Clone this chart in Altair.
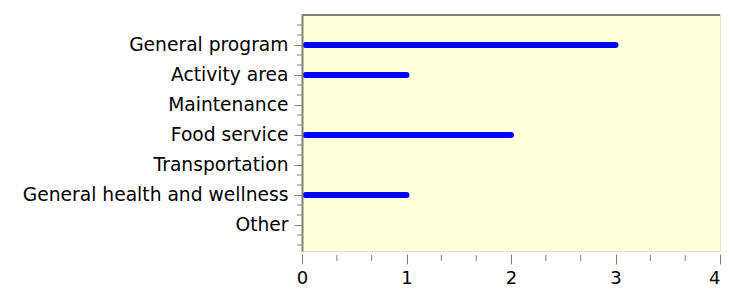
import json
import altair as alt
import pandas as pd

categories = ["General program", "Activity area", "Maintenance", "Food service",
              "Transportation", "General health and wellness", "Other"]
values = [3, 1, 0, 2, 0, 1, 0]
x_ticks = [0, 1, 2, 3, 4]
x_minor = [1/3, 2/3, 4/3, 5/3, 7/3, 8/3, 10/3, 11/3]
y_minor = [k / 3 for k in range(1, 24) if k % 3 != 0]

W, H = 418, 237
FONT = "DejaVu Sans"
FS = 18.7
AXIS_GRAY = "#808074"

df = pd.DataFrame({"cat": categories, "pos": list(range(1, len(categories) + 1)), "val": values})
df = df[df["val"] > 0]

yscale = alt.Scale(domain=[-0.033, 7.867], reverse=True, nice=False, zero=False)
xscale = alt.Scale(domain=[0, 4], nice=False)

label_expr = json.dumps(categories) + "[datum.value - 1]"

xaxis = alt.Axis(
    values=x_ticks, format="d", title=None, domain=False, grid=False, offset=3,
    tickSize=10, tickColor=AXIS_GRAY, tickWidth=1, labelFont=FONT, labelFontSize=18,
    labelColor="black", labelPadding=5, labelFlush=False, labelOverlap=False,
    labelAlign={"condition": {"test": "datum.value == 4", "value": "right"}, "value": "center"},
    labelBound=False)
yaxis = alt.Axis(
    values=list(range(1, 8)), labelExpr=label_expr, title=None, grid=False,
    domain=True, domainColor=AXIS_GRAY, domainWidth=2, tickSize=8, tickColor=AXIS_GRAY,
    tickWidth=1, labelFont=FONT, labelFontSize=FS, labelColor="black",
    labelPadding=6, labelLimit=400, labelOverlap=False, labelBound=False, zindex=1)

bars = alt.Chart(df).mark_rule(color="#0000ff", strokeWidth=6, strokeCap="round").encode(
    x=alt.X("val:Q", scale=xscale, axis=xaxis),
    x2=alt.datum(0.035),
    y=alt.Y("pos:Q", scale=yscale, axis=yaxis),
)

ymin = alt.Chart(pd.DataFrame({"v": y_minor})).mark_rule(color=AXIS_GRAY, strokeWidth=1, clip=False).encode(
    y=alt.Y("v:Q", scale=yscale, axis=yaxis),
    x=alt.value(-5), x2=alt.value(0),
)

xmin = alt.Chart(pd.DataFrame({"v": x_minor})).mark_rule(color=AXIS_GRAY, strokeWidth=1, clip=False).encode(
    x=alt.X("v:Q", scale=xscale, axis=xaxis),
    y=alt.value(H + 4), y2=alt.value(H + 10),
)

top = alt.Chart(pd.DataFrame({"a": [0]})).mark_rule(color=AXIS_GRAY, strokeWidth=2).encode(
    y=alt.value(1), x=alt.value(0), x2=alt.value(W),
)

chart = alt.layer(bars, ymin, xmin, top).properties(
    width=W, height=H,
    autosize=alt.AutoSizeParams(type="none"),
    padding={"left": 294, "top": 6, "right": 2, "bottom": 37},
).configure(background="white").configure_view(fill="#ffffd9", stroke="#e4e4d4", strokeWidth=1)

chart.save("out.html", embed_options={"renderer": "svg", "actions": False})
